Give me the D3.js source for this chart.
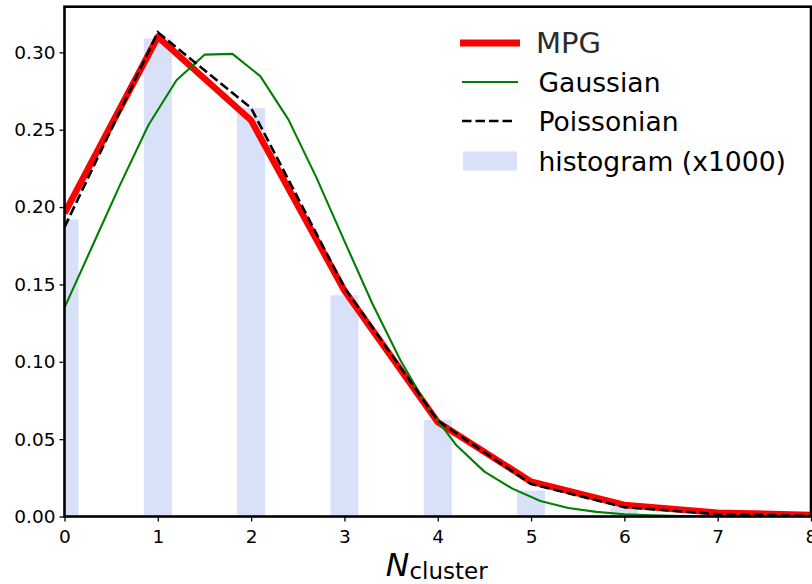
<!DOCTYPE html>
<html>
<head>
<meta charset="utf-8">
<script src="https://cdn.jsdelivr.net/npm/d3@7"></script>
<style>
  html, body { margin: 0; padding: 0; background: #fff; }
  svg { display: block; font-family: "DejaVu Sans", sans-serif; }
</style>
</head>
<body>
<svg id="chart" width="812" height="584"></svg>
<script>
// Cluster-count probabilities
const nValues = [0, 1, 2, 3, 4, 5, 6, 7, 8];
const histogram = [0.192, 0.309, 0.264, 0.143, 0.0625, 0.0168, 0.0065, 0.0018, 0.0004];
const mpg = [0.196, 0.310, 0.256, 0.146, 0.061, 0.0225, 0.0075, 0.0025, 0.001];
const poissonian = [0.187, 0.313, 0.264, 0.148, 0.062, 0.021, 0.006, 0.0015, 0.0003];

const gaussX = [0, 0.3, 0.6, 0.9, 1.2, 1.5, 1.8, 2.1, 2.4, 2.7, 3.0, 3.3, 3.6, 3.9,
                4.2, 4.5, 4.8, 5.1, 5.4, 5.7, 6.0, 6.3, 6.6, 6.9, 7.2, 7.5, 7.8];
const gaussY = [0.135, 0.175, 0.215, 0.253, 0.282, 0.2985, 0.299, 0.2845, 0.2565, 0.219,
                0.178, 0.1375, 0.101, 0.070, 0.046, 0.029, 0.018, 0.010, 0.0055, 0.003,
                0.0015, 0.0007, 0.0003, 0.0001, 0.00005, 0, 0];

const xTicks = [0, 1, 2, 3, 4, 5, 6, 7, 8];
const yTicks = [0, 0.05, 0.10, 0.15, 0.20, 0.25, 0.30];

const legendItems = [
  { label: "MPG", kind: "mpg" },
  { label: "Gaussian", kind: "gauss" },
  { label: "Poissonian", kind: "poisson" },
  { label: "histogram (x1000)", kind: "hist" }
];

const plot = { left: 64.5, right: 811, top: 6.7, bottom: 516.5 };
const svg = d3.select("#chart");

const x = d3.scaleLinear().domain([0, 8]).range([plot.left, plot.right]);
const y = d3.scaleLinear().domain([0, 0.3295]).range([plot.bottom, plot.top]);

const barColor = "#d9e1f9";
const barHalf = 0.15;
const dash = "9.5,4";

svg.append("defs").append("clipPath").attr("id", "plot-clip")
  .append("rect")
  .attr("x", plot.left).attr("y", plot.top)
  .attr("width", plot.right - plot.left)
  .attr("height", plot.bottom - plot.top);

const body = svg.append("g").attr("clip-path", "url(#plot-clip)");

// histogram bars
body.selectAll("rect.bar").data(nValues).join("rect")
  .attr("class", "bar")
  .attr("x", d => x(d - barHalf))
  .attr("width", d => x(d + barHalf) - x(d - barHalf))
  .attr("y", (d, i) => y(histogram[i]))
  .attr("height", (d, i) => y(0) - y(histogram[i]))
  .attr("fill", barColor);

const line = d3.line().x(d => x(d[0])).y(d => y(d[1]));

body.append("path")
  .datum(nValues.map((n, i) => [n, mpg[i]]))
  .attr("d", line)
  .attr("fill", "none").attr("stroke", "#ff0000")
  .attr("stroke-width", 6.5).attr("stroke-linejoin", "round");

body.append("path")
  .datum(gaussX.map((g, i) => [g, gaussY[i]]))
  .attr("d", line)
  .attr("fill", "none").attr("stroke", "#008000")
  .attr("stroke-width", 2.1).attr("stroke-linejoin", "round");

body.append("path")
  .datum(nValues.map((n, i) => [n, poissonian[i]]))
  .attr("d", line)
  .attr("fill", "none").attr("stroke", "#000")
  .attr("stroke-width", 2.6).attr("stroke-dasharray", dash);

// axes
const xAxis = d3.axisBottom(x).tickValues(xTicks).tickFormat(d3.format("d"))
  .tickSize(5).tickPadding(4);
const yAxis = d3.axisLeft(y).tickValues(yTicks).tickFormat(d3.format(".2f"))
  .tickSize(5).tickPadding(4);

const gx = svg.append("g").attr("transform", `translate(0,${plot.bottom})`).call(xAxis);
const gy = svg.append("g").attr("transform", `translate(${plot.left},0)`).call(yAxis);

[gx, gy].forEach(g => {
  g.select(".domain").remove();
  g.selectAll(".tick line").attr("stroke", "#000").attr("stroke-width", 1.3);
  g.selectAll(".tick text")
    .attr("fill", "#000")
    .style("font-family", "DejaVu Sans")
    .style("font-size", "18.5px");
});
gx.selectAll(".tick text").attr("dy", "0.95em");

// frame
svg.append("rect")
  .attr("x", plot.left).attr("y", plot.top)
  .attr("width", plot.right - plot.left)
  .attr("height", plot.bottom - plot.top)
  .attr("fill", "none").attr("stroke", "#000").attr("stroke-width", 2.6);

// x label: N_cluster
const xl = svg.append("text")
  .attr("x", (plot.left + plot.right) / 2 - 1)
  .attr("y", 576)
  .attr("text-anchor", "middle")
  .attr("fill", "#000");
xl.append("tspan").text("N")
  .style("font-style", "italic").style("font-size", "31.5px");
xl.append("tspan").text("cluster")
  .attr("dy", 3).style("font-size", "23px");

// legend
const legend = svg.append("g");
const rowY = [43, 82, 121, 161];
legendItems.forEach((item, i) => {
  const g = legend.append("g").attr("transform", `translate(0,${rowY[i]})`);
  if (item.kind === "mpg") {
    g.append("line").attr("x1", 460).attr("x2", 520).attr("y1", 0).attr("y2", 0)
      .attr("stroke", "#ff0000").attr("stroke-width", 7);
  } else if (item.kind === "gauss") {
    g.append("line").attr("x1", 462).attr("x2", 518).attr("y1", 0).attr("y2", 0)
      .attr("stroke", "#008000").attr("stroke-width", 2.1);
  } else if (item.kind === "poisson") {
    g.append("line").attr("x1", 462).attr("x2", 515).attr("y1", 0).attr("y2", 0)
      .attr("stroke", "#000").attr("stroke-width", 2.6).attr("stroke-dasharray", dash);
  } else {
    g.append("rect").attr("x", 463).attr("y", -9.5).attr("width", 54).attr("height", 19)
      .attr("fill", barColor);
  }
  g.append("text")
    .attr("x", item.kind === "mpg" ? 536 : 538.5)
    .attr("y", 0)
    .attr("dy", "0.36em")
    .attr("fill", item.kind === "mpg" ? "#2b2b2b" : "#000")
    .style("font-size", item.kind === "mpg" ? "29px" : "26.6px")
    .text(item.label);
});
</script>
</body>
</html>
